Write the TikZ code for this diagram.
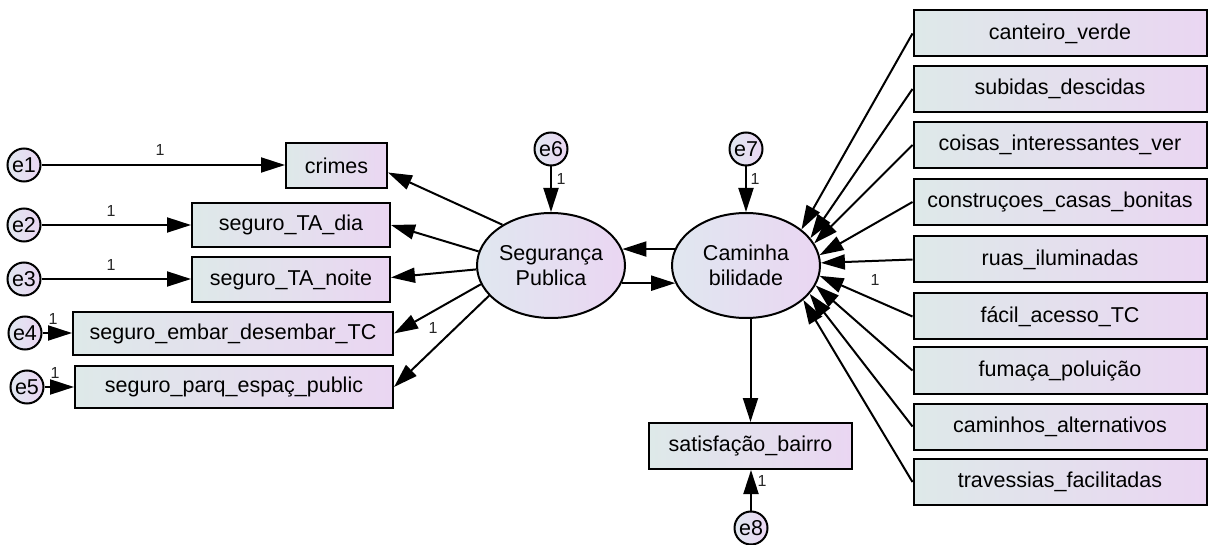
\documentclass[tikz,border=0pt]{standalone}
\usepackage{fontspec}
\setmainfont{Liberation Sans}
\usetikzlibrary{arrows.meta,shapes.geometric}
\definecolor{shadeL}{RGB}{222,233,233}
\definecolor{shadeR}{RGB}{234,214,242}
\definecolor{ovalL}{RGB}{224,231,240}
\definecolor{ovalR}{RGB}{234,214,242}
\tikzset{
  obs/.style={draw=black, line width=2pt, rectangle, inner sep=0pt,
    left color=shadeL, right color=shadeR,
    font=\fontsize{21.5}{25}\selectfont},
  lat/.style={draw=black, line width=2pt, ellipse, inner sep=0pt,
    minimum width=148pt, minimum height=105pt, align=center,
    left color=ovalL, right color=ovalR,
    font=\fontsize{21.5}{25}\selectfont},
  err/.style={draw=black, line width=2pt, circle, inner sep=0pt,
    minimum size=33pt, left color=ovalL, right color=ovalR,
    font=\fontsize{21.5}{25}\selectfont},
  arr/.style={line width=2pt, -{Triangle[length=24pt,width=15pt]}},
  wt/.style={inner sep=0pt, font=\fontsize{16}{17}\selectfont, text=black!85},
}
\begin{document}
\begin{tikzpicture}[x=1pt,y=-1pt]
\useasboundingbox (0,0) rectangle (1208,545);

% latent variables
\node[lat] (seg) at (551,265.5) {Segurança\\Publica};
\node[lat] (cam) at (746,265.5) {Caminha\\bilidade};

% indicators of Segurança Publica
\node[obs, minimum width=101pt, minimum height=45pt] (crimes) at (336.5,165.5) {crimes};
\node[obs, minimum width=198pt, minimum height=44pt] (tadia) at (291,225) {seguro\_TA\_dia};
\node[obs, minimum width=198pt, minimum height=45pt] (tanoite) at (291,279.5) {seguro\_TA\_noite};
\node[obs, minimum width=320pt, minimum height=43pt] (embar) at (233,333.5) {seguro\_embar\_desembar\_TC};
\node[obs, minimum width=318pt, minimum height=42pt] (parq) at (234,387) {seguro\_parq\_espaç\_public};

% indicators of Caminhabilidade
\foreach \n/\y/\t in {r1/33.5/canteiro\_verde, r2/89/subidas\_descidas,
  r3/145/coisas\_interessantes\_ver, r4/202/construçoes\_casas\_bonitas,
  r5/259.5/ruas\_iluminadas, r6/316.5/fácil\_acesso\_TC,
  r7/370.5/fumaça\_poluição, r8/426.5/caminhos\_alternativos,
  r9/482/travessias\_facilitadas}
  \node[obs, minimum width=293pt, minimum height=46pt] (\n) at (1060,\y) {\t};

% outcome
\node[obs, minimum width=203pt, minimum height=46pt] (sat) at (750.5,446) {satisfação\_bairro};

% error terms
\node[err] (e1) at (24,165) {e1};
\node[err] (e2) at (24,225) {e2};
\node[err] (e3) at (24,279) {e3};
\node[err] (e4) at (25,333) {e4};
\node[err] (e5) at (27,387) {e5};
\node[err] (e6) at (551,149) {e6};
\node[err] (e7) at (746,149) {e7};
\node[err] (e8) at (751,528) {e8};

% error paths
\draw[arr] (e1) -- (e1 -| crimes.west);
\draw[arr] (e2) -- (e2 -| tadia.west);
\draw[arr] (e3) -- (e3 -| tanoite.west);
\draw[arr] (e4) -- (e4 -| embar.west);
\draw[arr] (e5) -- (e5 -| parq.west);
\draw[arr] (e6) -- (seg);
\draw[arr] (e7) -- (cam);
\draw[arr] (e8) -- (e8 |- sat.south);

% loadings of Segurança Publica
\draw[arr] (seg.140.4) -- ([yshift=-7pt]crimes.east);
\draw[arr] (seg.169.5) -- (tadia.east);
\draw[arr] (seg.183.5) -- ([yshift=2pt]tanoite.east);
\draw[arr] (seg.195.5) -- (embar.east);
\draw[arr] (seg.206.5) -- (parq.east);

% loadings of Caminhabilidade
\draw[arr] (r1.west) -- (cam.33.8);
\draw[arr] (r2.west) -- (cam.23.3);
\draw[arr] (r3.west) -- (cam.18);
\draw[arr] (r4.west) -- (cam.8);
\draw[arr] (r5.west) -- (cam.2);
\draw[arr] (r6.west) -- (cam.-8.8);
\draw[arr] (r7.west) -- (cam.-16.6);
\draw[arr] (r8.west) -- (cam.-24);
\draw[arr] (r9.west) -- (cam.-31);

% structural paths
\draw[arr] (cam.167) -- (seg.13);
\draw[arr] (seg.-14) -- (cam.194);
\draw[arr] (cam.south -| sat.north) -- (sat.north);

% fixed weights
\node[wt] (w1) at (160,150) {1};
\node[wt] (w2) at (111,211) {1};
\node[wt] (w3) at (111,265) {1};
\node[wt] (w4) at (53,319) {1};
\node[wt] (w5) at (55,373) {1};
\node[wt] (w6) at (561,179) {1};
\node[wt] (w7) at (755,179) {1};
\node[wt] (w8) at (762,481) {1};
\node[wt] (w9) at (433,328) {1};
\node[wt] (w10) at (875,280) {1};
\end{tikzpicture}
\end{document}
